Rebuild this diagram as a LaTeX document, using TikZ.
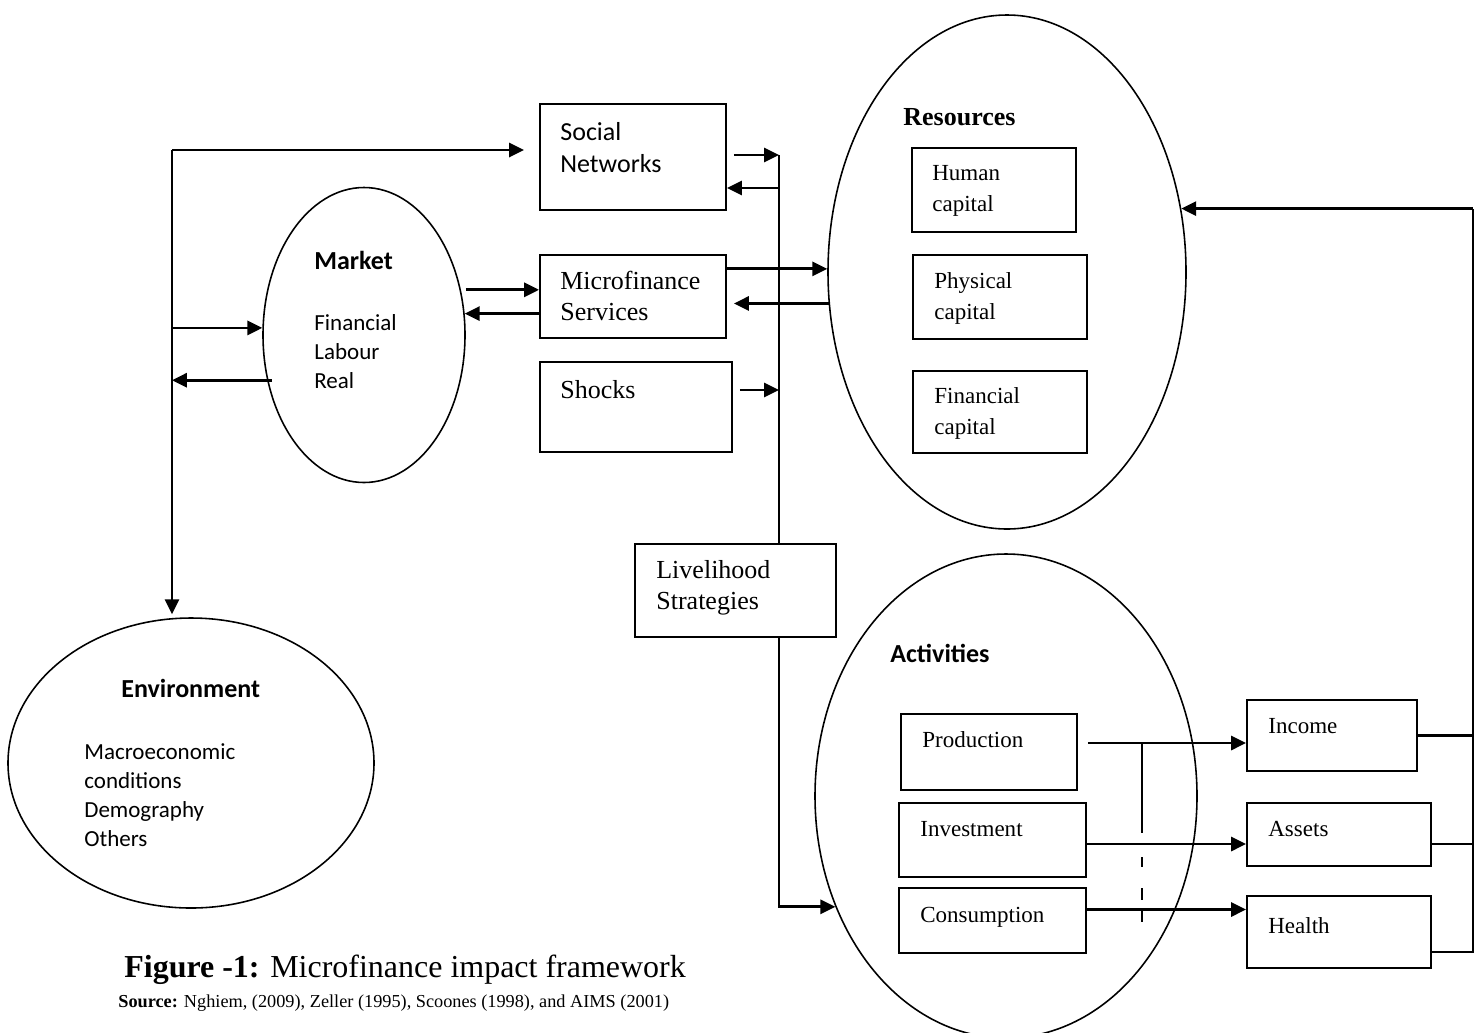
\documentclass[tikz,border=0pt]{standalone}
\usepackage{fontspec}
\setmainfont{Liberation Serif}
\newfontfamily\calibri{Carlito}
\usetikzlibrary{arrows.meta,shapes.geometric,calc}
\newcommand{\unitpx}{0.02cm}
\tikzset{
  box/.style={draw, line width=1.1pt, inner sep=0pt},
  oval/.style={draw, ellipse, line width=0.9pt, inner sep=0pt},
  arr/.style={-{Triangle[length=8.5pt,width=8pt]}, line width=1.6pt},
  link/.style={line width=1.3pt},
  txt/.style={anchor=base west, inner sep=0pt, align=left},
  bigsans/.style={font=\calibri\fontsize{14.8}{18.2}\selectfont},
  smallsans/.style={font=\calibri\fontsize{13.1}{16.5}\selectfont},
  bigserif/.style={font=\fontsize{14.8}{17.6}\selectfont},
  smallserif/.style={font=\fontsize{13.1}{17.6}\selectfont},
  capfont/.style={font=\fontsize{18.2}{22}\selectfont},
  srcfont/.style={font=\fontsize{10.4}{12.5}\selectfont}
}

\begin{document}
\begin{tikzpicture}[x=0.02cm, y=-0.02cm]
  \useasboundingbox (0,0) rectangle (1476,1032);
  % Ovals
  \node[oval, minimum width=202*\unitpx, minimum height=295*\unitpx] (market) at (364,335) {};
  \node[oval, minimum width=358*\unitpx, minimum height=514*\unitpx] (resources) at (1007,272) {};
  \node[oval, minimum width=382*\unitpx, minimum height=484*\unitpx] (activities) at (1006,796) {};
  \node[oval, minimum width=366*\unitpx, minimum height=290*\unitpx] (environment) at (191,763) {};
  % Middle boxes
  \node[box, minimum width=186*\unitpx, minimum height=106*\unitpx] (social) at (633,157) {};
  \node[box, minimum width=186*\unitpx, minimum height=83*\unitpx] (mfs) at (633,296.5) {};
  \node[box, minimum width=192*\unitpx, minimum height=90*\unitpx] (shocks) at (636,407) {};
  \node[box, minimum width=201*\unitpx, minimum height=93*\unitpx] (livelihood) at (735.5,590.5) {};
  % Resource boxes
  \node[box, minimum width=164*\unitpx, minimum height=84*\unitpx] (human) at (994,190) {};
  \node[box, minimum width=174*\unitpx, minimum height=84*\unitpx] (physical) at (1000,297) {};
  \node[box, minimum width=174*\unitpx, minimum height=82*\unitpx] (fincap) at (1000,412) {};
  % Activity boxes
  \node[box, minimum width=176*\unitpx, minimum height=76*\unitpx] (production) at (989,752) {};
  \node[box, minimum width=187*\unitpx, minimum height=74*\unitpx] (investment) at (992.5,840) {};
  \node[box, minimum width=187*\unitpx, minimum height=65*\unitpx] (consumption) at (992.5,920.5) {};
  % Outcome boxes
  \node[box, minimum width=170*\unitpx, minimum height=71*\unitpx] (income) at (1332,735.5) {};
  \node[box, minimum width=184*\unitpx, minimum height=63*\unitpx] (assets) at (1339,834.5) {};
  \node[box, minimum width=184*\unitpx, minimum height=72*\unitpx] (health) at (1339,932) {};

  % Texts (multi-line ones sit on their last baseline)
  \node[txt, bigsans] (social-t) at (560,172) {Social\\Networks};
  \node[txt, bigserif] (mfs-t) at (560,320) {Microfinance\\Services};
  \node[txt, bigserif] (shocks-t) at (560,398) {Shocks};
  \node[txt, bigserif] (livelihood-t) at (656,609) {Livelihood\\Strategies};
  \node[txt, bigsans] (market-t) at (314,269) {\bfseries Market};
  \node[txt, smallsans] (market-l) at (314,388) {Financial\\Labour\\Real};
  \node[txt, bigserif] (resources-t) at (903,125) {\bfseries Resources};
  \node[txt, smallserif] (human-t) at (932,211) {Human\\capital};
  \node[txt, smallserif] (physical-t) at (934,319) {Physical\\capital};
  \node[txt, smallserif] (fincap-t) at (934,434) {Financial\\capital};
  \node[txt, bigsans] (activities-t) at (890,662) {\bfseries Activities};
  \node[txt, smallserif] (production-t) at (922,747) {Production};
  \node[txt, smallserif] (investment-t) at (920,836) {Investment};
  \node[txt, smallserif] (consumption-t) at (920,922) {Consumption};
  \node[txt, smallserif] (income-t) at (1268,733) {Income};
  \node[txt, smallserif] (assets-t) at (1268,836) {Assets};
  \node[txt, smallserif] (health-t) at (1268,933) {Health};
  \node[txt, bigsans] (environment-t) at (121,697) {\bfseries Environment};
  \node[txt, smallsans] (environment-l) at (84,846) {Macroeconomic\\conditions\\Demography\\Others};
  \node[txt, capfont] (caption) at (124,977) {\textbf{Figure -1:} Microfinance impact framework};
  \node[txt, srcfont] (source) at (118,1007) {\textbf{Source:} Nghiem, (2009), Zeller (1995), Scoones (1998), and AIMS (2001)};

  % Left trunk
  \coordinate (lt) at (172,150);
  \coordinate (lb) at ([yshift=0.06cm]environment.north -| lt);
  \coordinate (sn-in) at ([xshift=-0.3cm]social.west |- lt);
  \coordinate (mk-out) at ([xshift=0.1cm]market.205);
  \draw[arr] (lt) -- (lb);
  \draw[arr] (lt) -- (sn-in);
  \draw[arr] (lt |- market.176) -- (market.176);
  \draw[arr] (mk-out) -- (lt |- mk-out);
  % Market <-> microfinance
  \coordinate (mk-mf) at ([xshift=0.1cm]market.25);
  \draw[arr] (mk-mf) -- (mk-mf -| mfs.west);
  \draw[arr] (market.12 -| mfs.west) -- (market.12);
  % Microfinance <-> resources
  \coordinate (rs-out) at ([xshift=0.14cm]resources.190 -| mfs.east);
  \draw[arr] (resources.179 -| mfs.east) -- (resources.179);
  \draw[arr] (resources.190) -- (rs-out);
  % Middle trunk
  \coordinate (mt) at (779,155);
  \coordinate (sn-out) at ([xshift=0.14cm]social.east |- mt);
  \coordinate (sn-back) at ([yshift=-0.62cm]social.east);
  \coordinate (sh-out) at ([xshift=0.14cm,yshift=0.34cm]shocks.east);
  \draw[link] (mt) -- (mt |- livelihood.north);
  \draw[arr] (sn-out) -- (mt);
  \draw[arr] (sn-back -| mt) -- (sn-back);
  \draw[arr] (sh-out) -- (sh-out -| mt);
  \draw[arr] (mt |- livelihood.south) |- (activities.213);
  % Activities to outcomes
  \coordinate (pr-out) at ([xshift=0.2cm,yshift=0.18cm]production.east);
  \coordinate (in-out) at ([yshift=-0.08cm]investment.east);
  \coordinate (co-out) at ([yshift=0.22cm]consumption.east);
  \draw[arr] (pr-out) -- (pr-out -| income.west);
  \draw[arr] (in-out) -- (in-out -| assets.west);
  \draw[arr] (co-out) -- (co-out -| health.west);
  \coordinate (dl-top) at (1142,743);
  \coordinate (dl-mid) at (1142,833);
  \coordinate (dl-dash) at (1142,857);
  \coordinate (dl-end) at (1142,922);
  \draw[line width=1pt] (dl-top) -- (dl-mid);
  \draw[line width=1pt, dash pattern=on 5.7pt off 12pt on 6.8pt off 5.7pt on 6.8pt off 20pt] (dl-dash) -- (dl-end);
  % Right trunk back to resources
  \coordinate (rt) at (resources.20 -| 1473,0);
  \coordinate (as-out) at ([yshift=-0.19cm]assets.east);
  \coordinate (he-out) at ([yshift=-0.4cm]health.east);
  \draw[link] (he-out) -- (he-out -| rt) -- (rt);
  \draw[link] (income.east) -- (income.east -| rt);
  \draw[link] (as-out) -- (as-out -| rt);
  \draw[arr] (rt) -- (resources.20);
\end{tikzpicture}
\end{document}
